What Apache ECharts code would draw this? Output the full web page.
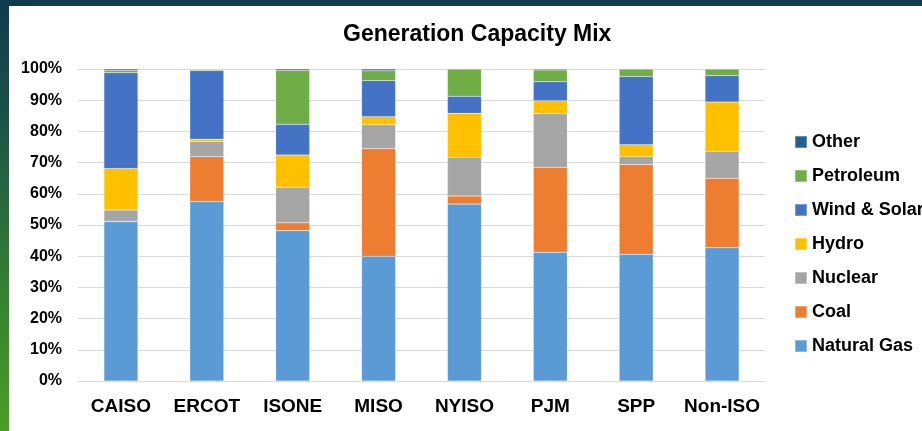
<!DOCTYPE html>
<html>
<head>
<meta charset="utf-8">
<script src="https://cdn.jsdelivr.net/npm/echarts@6/dist/echarts.min.js"></script>
<style>
  html, body { margin: 0; padding: 0; }
  body {
    width: 922px; height: 431px; overflow: hidden;
    background: linear-gradient(to bottom, #113a4e 0%, #1f5446 30%, #347d35 65%, #4c9d26 100%);
  }
  #chart {
    position: absolute; left: 9px; top: 6px;
    width: 913px; height: 425px; background: #ffffff;
  }
</style>
</head>
<body>
<div id="chart"></div>
<script>
// 数据（从图中读取，单位 %）
const regions = ["CAISO", "ERCOT", "ISONE", "MISO", "NYISO", "PJM", "SPP", "Non-ISO"];
const naturalGas = [51.1, 57.5, 48.2, 40.0, 56.7, 41.3, 40.6, 42.7];
const coal       = [0.0, 14.4, 2.5, 34.5, 2.6, 27.2, 28.8, 22.3];
const nuclear    = [3.7, 4.8, 11.4, 7.6, 12.4, 17.2, 2.5, 8.6];
const hydro      = [13.3, 0.8, 10.3, 2.6, 14.1, 4.1, 3.8, 15.8];
const windSolar  = [30.7, 22.0, 9.9, 11.6, 5.5, 6.1, 21.9, 8.5];
const petroleum  = [0.7, 0.3, 17.2, 3.1, 8.7, 3.8, 2.4, 2.1];
const other      = [0.5, 0.2, 0.5, 0.6, 0.0, 0.3, 0.0, 0.0];
const yTicks = [0, 10, 20, 30, 40, 50, 60, 70, 80, 90, 100];

const font = "'Liberation Sans', Arial, sans-serif";

const seriesDefs = [
  { name: "Natural Gas", data: naturalGas, color: "#5b9bd5" },
  { name: "Coal", data: coal, color: "#ed7d31" },
  { name: "Nuclear", data: nuclear, color: "#a5a5a5" },
  { name: "Hydro", data: hydro, color: "#ffc000" },
  { name: "Wind & Solar", data: windSolar, color: "#4472c4" },
  { name: "Petroleum", data: petroleum, color: "#70ad47" },
  { name: "Other", data: other, color: "#255e91" },
];

const myChart = echarts.init(document.getElementById("chart"));

myChart.setOption({
  animation: false,
  title: {
    text: "Generation Capacity Mix",
    left: 329,
    top: 12,
    textStyle: { fontFamily: font, fontSize: 23, fontWeight: "bold", color: "#000" },
  },
  legend: {
    orient: "vertical",
    left: 780,
    top: 121,
    itemWidth: 12,
    itemHeight: 12,
    itemGap: 14,
    icon: "rect",
    data: seriesDefs.map(s => s.name).reverse(),
    textStyle: { fontFamily: font, fontSize: 18, fontWeight: "bold", color: "#000", lineHeight: 20 },
  },
  grid: { left: 69, right: 157, top: 63, bottom: 50 },
  xAxis: {
    type: "category",
    data: regions,
    axisTick: { show: false },
    axisLine: { lineStyle: { color: "#d9d9d9", width: 1 } },
    axisLabel: {
      interval: 0,
      fontFamily: font, fontSize: 19, fontWeight: "bold", color: "#000", margin: 16,
    },
  },
  yAxis: {
    type: "value",
    min: yTicks[0],
    max: yTicks[yTicks.length - 1],
    interval: 10,
    axisLine: { show: false },
    axisTick: { show: false },
    splitLine: { lineStyle: { color: "#d9d9d9", width: 1 } },
    axisLabel: {
      formatter: "{value}%",
      fontFamily: font, fontSize: 16, fontWeight: "bold", color: "#000", margin: 16,
    },
  },
  series: seriesDefs.map(s => ({
    name: s.name,
    type: "bar",
    stack: "mix",
    barWidth: 34,
    data: s.data,
    itemStyle: { color: s.color, borderColor: "rgba(255,255,255,0.3)", borderWidth: 0.5 },
  })),
});
</script>
</body>
</html>
